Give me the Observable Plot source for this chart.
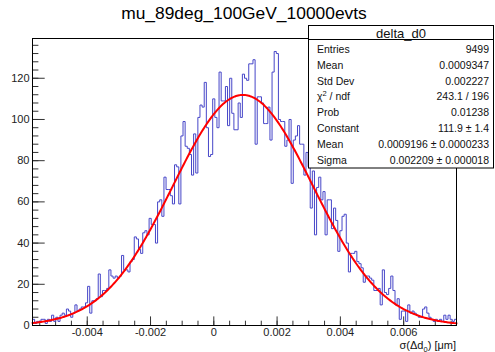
<!DOCTYPE html>
<html><head><meta charset="utf-8">
<script src="https://cdn.jsdelivr.net/npm/d3@7"></script>
<script src="https://cdn.jsdelivr.net/npm/@observablehq/plot@0.6"></script>
<style>body{margin:0;background:#fff} svg{display:block}</style>
</head><body><div id="chart"></div>
<script>
const title = "mu_89deg_100GeV_10000evts";
const histName = "delta_d0";
const xMin = -0.00573, xMax = 0.00767;
const counts = [
  3,1,2,2,3,3,1,3,2,5,
  2,4,2,5,6,5,8,7,4,6,
  10,7,8,9,9,11,19,6,12,12,
  13,25,14,17,17,18,27,24,23,24,
  23,24,34,27,27,26,31,32,43,42,
  37,35,45,46,44,52,49,49,40,60,
  61,53,72,66,66,63,59,78,77,59,
  92,99,87,86,83,73,93,74,101,107,
  106,118,96,82,83,110,101,96,123,109,
  109,116,97,120,103,95,95,108,101,122,
  120,119,127,127,129,88,111,111,108,98,
  98,106,90,123,133,132,100,99,99,87,
  90,100,69,90,92,97,88,88,73,84,
  77,57,75,44,67,72,61,65,44,61,
  61,47,57,51,36,46,53,54,40,26,
  35,35,36,31,30,28,21,24,24,23,
  22,17,17,18,10,27,16,15,18,24,
  17,10,13,3,7,7,2,10,6,7,
  6,5,4,4,8,9,6,4,3,2,
  3,2,3,2,5,3,5,3,2,3
];
const statLabels = ["Entries","Mean","Std Dev","χ2 / ndf","Prob","Constant","Mean","Sigma"];
const statValues = ["9499","0.0009347","0.002227","243.1 / 196","0.01238","111.9 ± 1.4","0.0009196 ± 0.0000233","0.002209 ± 0.000018"];
const fitConstant = 111.9, fitMean = 0.0009196, fitSigma = 0.002209;
const xTicksMajor = [-0.004,-0.002,0,0.002,0.004,0.006];
const yTicksMajor = [0,20,40,60,80,100,120];
const yMax = 139.3;

const W = 495, H = 352, mL = 32, mR = 39, mT = 38, mB = 27;
const plotW = W - mL - mR, plotH = H - mT - mB;
const xMinor = d3.range(-0.0055, 0.0076, 0.0005).map(v => +v.toFixed(4));
const yMinor = d3.range(0, 138, 4);

const bw = (xMax - xMin) / counts.length;
const steps = counts.map((c, i) => ({x: xMin + i * bw, y: c}));
steps.push({x: xMax, y: counts[counts.length - 1]});
const fit = d3.range(0, 401).map(k => {
  const x = xMin + (xMax - xMin) * k / 400;
  return {x, y: fitConstant * Math.exp(-0.5 * ((x - fitMean) / fitSigma) ** 2)};
});

const font = "Liberation Sans, Arial, Helvetica, sans-serif";
const chart = Plot.plot({
  width: W, height: H, marginLeft: mL, marginRight: mR, marginTop: mT, marginBottom: mB,
  style: {fontFamily: font, fontSize: "11px", color: "#222", background: "#fff"},
  x: {domain: [xMin, xMax]},
  y: {domain: [0, yMax]},
  marks: [
    Plot.tickX(xMinor, {x: d => d, insetTop: plotH - 4.3, stroke: "#333"}),
    Plot.tickX(xTicksMajor, {x: d => d, insetTop: plotH - 8.6, stroke: "#333"}),
    Plot.tickY(yMinor, {y: d => d, insetRight: plotW - 6.4, stroke: "#333"}),
    Plot.tickY(yTicksMajor, {y: d => d, insetRight: plotW - 12.7, stroke: "#333"}),
    Plot.axisX({ticks: xTicksMajor, tickSize: 0, tickPadding: 3, tickFormat: d => d === 0 ? "0" : d.toFixed(3), label: null}),
    Plot.axisY({ticks: yTicksMajor, tickSize: 0, tickPadding: 3, label: null}),
    Plot.line(steps, {x: "x", y: "y", curve: "step-after", stroke: "#4646c8", strokeWidth: 1}),
    Plot.line(fit, {x: "x", y: "y", stroke: "#ff0000", strokeWidth: 2}),
    Plot.frame({stroke: "#000"})
  ]
});
document.getElementById("chart").appendChild(chart);

const svg = d3.select(chart);
// title
svg.append("text").attr("x", 244).attr("y", 19).attr("text-anchor", "middle")
  .attr("font-family", font).attr("font-size", 17.4).attr("fill", "#000").text(title);
// x-axis label
const xl = svg.append("text").attr("x", 456).attr("y", 349).attr("text-anchor", "end")
  .attr("font-family", font).attr("font-size", 11).attr("fill", "#111");
xl.append("tspan").text("σ(Δd");
xl.append("tspan").attr("font-size", 7.5).attr("dy", 2.5).text("0");
xl.append("tspan").attr("dy", -2.5).text(") [μm]");
// stats box
const g = svg.append("g").attr("font-family", font).attr("fill", "#111").attr("text-anchor", "start");
g.append("rect").attr("x", 308.5).attr("y", 25.5).attr("width", 185).attr("height", 142.5)
  .attr("fill", "#fff").attr("stroke", "#000");
g.append("line").attr("x1", 308.5).attr("x2", 493.5).attr("y1", 39.5).attr("y2", 39.5).attr("stroke", "#000");
g.append("text").attr("x", 401).attr("y", 37.5).attr("text-anchor", "middle").attr("font-size", 13).text(histName);
statLabels.forEach((lab, i) => {
  const y = 53 + i * 15.8;
  const t = g.append("text").attr("x", 317).attr("y", y).attr("text-anchor", "start").attr("font-size", 10.5);
  if (lab.startsWith("χ2")) {
    t.append("tspan").text("χ");
    t.append("tspan").attr("font-size", 7.5).attr("dy", -4).text("2");
    t.append("tspan").attr("dy", 4).text(" / ndf");
  } else t.text(lab);
  g.append("text").attr("x", 489).attr("y", y).attr("text-anchor", "end").attr("font-size", 10.5).text(statValues[i]);
});
</script>
</body></html>
